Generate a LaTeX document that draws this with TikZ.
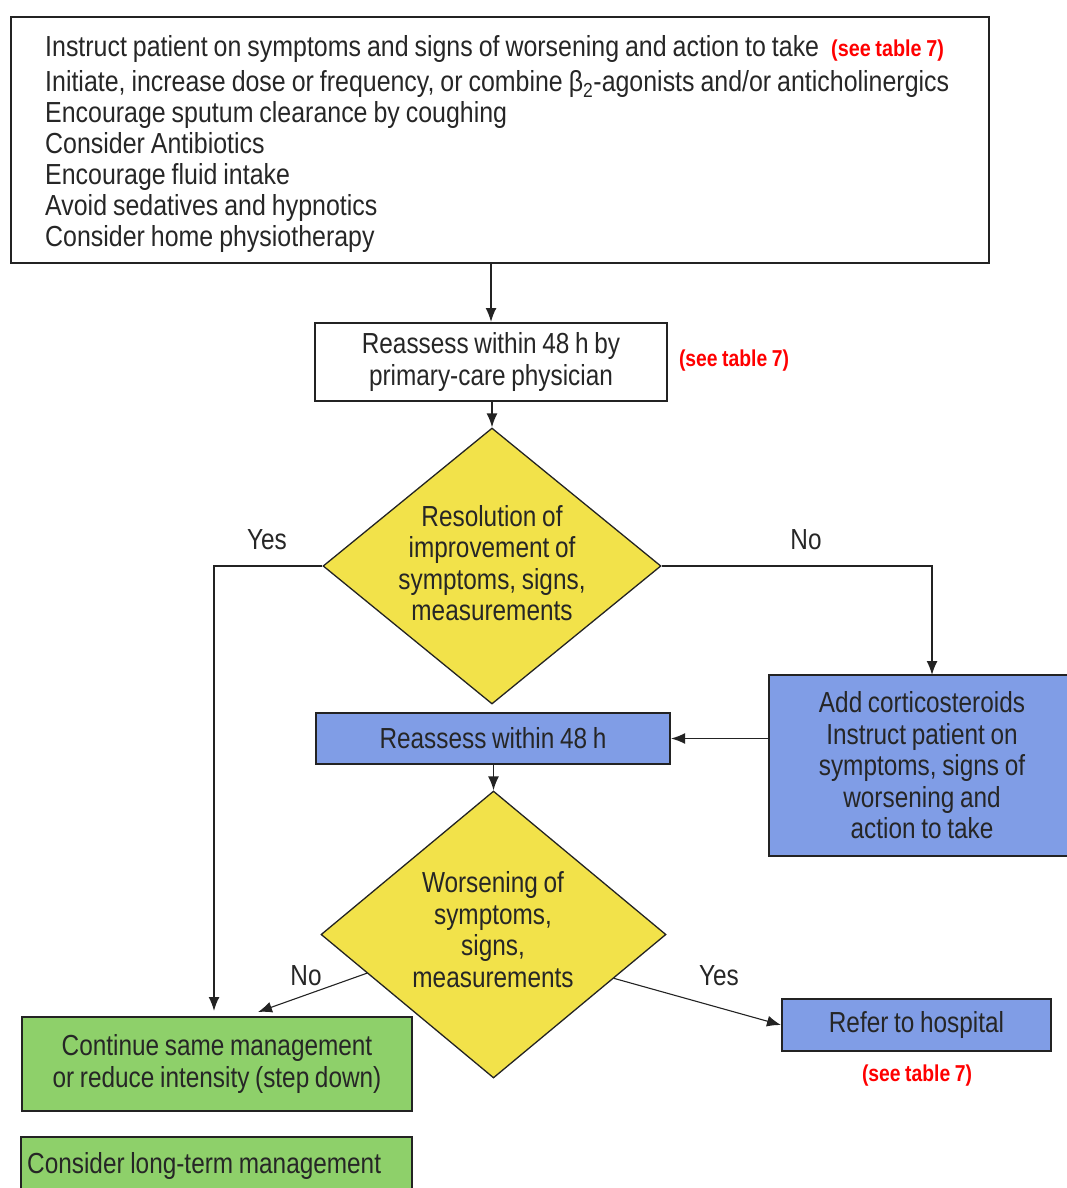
\documentclass[tikz,border=0pt]{standalone}
\usepackage{fontspec}
\setmainfont{Liberation Sans}[FakeStretch=0.84,WordSpace=0.84]
\newfontfamily\topfont{Liberation Sans}[FakeStretch=0.86,WordSpace=0.86]
\usetikzlibrary{shapes.geometric,arrows.meta}
\definecolor{diayellow}{RGB}{242,226,74}
\definecolor{boxblue}{RGB}{128,157,230}
\definecolor{boxgreen}{RGB}{142,208,106}
\definecolor{linegray}{RGB}{35,35,35}
\begin{document}
\begin{tikzpicture}
		[x=1pt,y=-1pt,
		every node/.style={font=\fontsize{29}{31.5}\selectfont,text=black!85},
		box/.style={rectangle,draw=linegray,line width=2pt,inner sep=0pt},
		bluebox/.style={box,fill=boxblue},
		greenbox/.style={box,fill=boxgreen},
		decision/.style={diamond,draw=linegray,fill=diayellow,line width=1.3pt,inner sep=0pt},
		seestyle/.style={text=red,font=\fontsize{23}{24}\selectfont\bfseries},
		textstyle/.style={align=center},
		edgestyle/.style={-{Latex[length=14pt,width=11pt]},line width=1.6pt,draw=linegray}]
		\useasboundingbox (0,0) rectangle (1067,1188);
		\node at (500,140) (advice) [box,minimum width=978pt,minimum height=246pt] {};
		\node at (45,144.5) (advicetext) [anchor=west,inner sep=0pt,align=left,font=\topfont\fontsize{29}{31}\selectfont]
			{Instruct patient on symptoms and signs of worsening and action to take\hspace{12pt}{\color{red}\bfseries\fontsize{23}{24}\selectfont(see table 7)}\\[4pt]
			Initiate, increase dose or frequency, or combine β\textsubscript{2}-agonists and/or anticholinergics\\
			Encourage sputum clearance by coughing\\
			Consider Antibiotics\\
			Encourage fluid intake\\
			Avoid sedatives and hypnotics\\
			Consider home physiotherapy};
		\node at (491,362) (reassess) [box,minimum width=352pt,minimum height=78pt,textstyle] {Reassess within 48 h by\\primary-care physician};
		\node at (734,361) (see1) [seestyle] {(see table 7)};
		\node at (492,566) (resolved) [decision,minimum width=338pt,minimum height=276pt] {};
		\node at (492,563) (resolvedtext) [textstyle] {Resolution of\\improvement of\\symptoms, signs,\\measurements};
		\node at (922,765.5) (steroids) [bluebox,minimum width=306pt,minimum height=181pt,textstyle]
			{Add corticosteroids\\Instruct patient on\\symptoms, signs of\\worsening and\\action to take};
		\node at (493,738.5) (reassess48) [bluebox,minimum width=354pt,minimum height=51pt] {Reassess within 48 h};
		\node at (493.5,934.5) (worse) [decision,minimum width=345pt,minimum height=287pt] {};
		\node at (493,929.5) (worsetext) [textstyle] {Worsening of\\symptoms,\\signs,\\measurements};
		\node at (916.5,1025) (hospital) [bluebox,minimum width=269pt,minimum height=52pt] {Refer to hospital};
		\node at (917,1076) (see2) [seestyle] {(see table 7)};
		\node at (217,1064) (continue) [greenbox,minimum width=390pt,minimum height=94pt,textstyle]
			{Continue same management\\or reduce intensity (step down)};
		\node at (216.5,1166) (longterm) [greenbox,minimum width=391pt,minimum height=58pt] {};
		\node at (27,1166) (longtermtext) [anchor=west,inner sep=0pt] {Consider long-term management};
		\node at (267,540) (yes1) {Yes};
		\node at (806,540) (no1) {No};
		\node at (306,976) (no2) {No};
		\node at (719,976) (yes2) {Yes};
		\coordinate (yesend) at (214,1011);
		\coordinate (noend) at (932,675);
		\coordinate (noend2) at (258,1012);
		\draw[edgestyle] (reassess.north |- advice.south) -- (reassess.north);
		\draw[edgestyle] (resolved.north |- reassess.south) -- (resolved.north);
		\draw[edgestyle] (resolved.west) -| (yesend);
		\draw[edgestyle] (resolved.east) -| (noend);
		\draw[edgestyle] (steroids.west |- reassess48.east) -- (reassess48.east);
		\draw[edgestyle] (worse.north |- reassess48.south) -- (worse.north);
		\draw[edgestyle,line width=1.1pt] (worse.197) -- (noend2);
		\draw[edgestyle,line width=1.1pt] (worse.-20) -- (hospital.west);
	\end{tikzpicture}
\end{document}
